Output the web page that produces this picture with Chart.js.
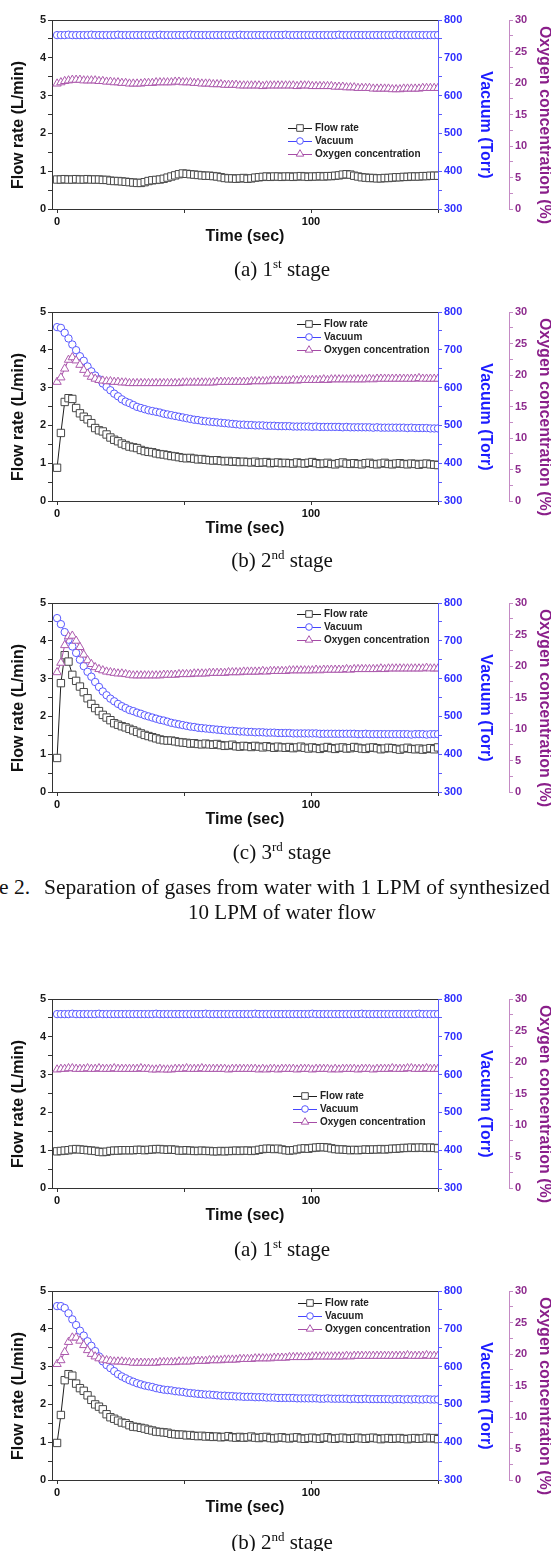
<!DOCTYPE html>
<html>
<head>
<meta charset="utf-8">
<script src="https://cdn.jsdelivr.net/npm/chart.js@4.4.1/dist/chart.umd.min.js"></script>
<style>
  html, body { margin:0; padding:0; background:#fff; }
  #page { position:relative; width:551px; height:1551px; overflow:hidden; }
  .panel { position:absolute; left:0; width:551px; height:260px; }
  .cap { position:absolute; left:0; width:564px; text-align:center; color:#111; white-space:nowrap;
         font-family:"Liberation Serif","Times New Roman",serif; font-size:21px; line-height:24px; }
  .cap sup { font-size:13px; line-height:0; vertical-align:8px; }
  .figcap { position:absolute; color:#111; white-space:pre;
            font-family:"Liberation Serif","Times New Roman",serif; font-size:21.5px; line-height:24px; }
</style>
</head>
<body>
<div id="page">
  <div class="panel" style="top:0px"><canvas id="c1" width="551" height="260"></canvas></div>
  <div class="cap" style="top:257px">(a) 1<sup>st</sup> stage</div>

  <div class="panel" style="top:292px"><canvas id="c2" width="551" height="260"></canvas></div>
  <div class="cap" style="top:548px">(b) 2<sup>nd</sup> stage</div>

  <div class="panel" style="top:583px"><canvas id="c3" width="551" height="260"></canvas></div>
  <div class="cap" style="top:840px">(c) 3<sup>rd</sup> stage</div>

  <div class="figcap" style="top:875px;left:-1px">e 2.</div>
  <div class="figcap" style="top:875px;left:44px">Separation of gases from water with 1 LPM of synthesized</div>
  <div class="cap" style="top:900px">10 LPM of water flow</div>

  <div class="panel" style="top:979px"><canvas id="c4" width="551" height="260"></canvas></div>
  <div class="cap" style="top:1237px">(a) 1<sup>st</sup> stage</div>

  <div class="panel" style="top:1271px"><canvas id="c5" width="551" height="260"></canvas></div>
  <div class="cap" style="top:1530px">(b) 2<sup>nd</sup> stage</div>
</div>

<script>
// samples logged every 1.5 s, t = 0 .. 150 s
const SAMPLE_STEP = 1.5;

// axis ticks (major ones get labels)
const timeTicks = [0, 50, 100, 150];
const timeLabels = [0, 100];
const flowTicks = [0, 0.5, 1, 1.5, 2, 2.5, 3, 3.5, 4, 4.5, 5];
const flowLabels = [0, 1, 2, 3, 4, 5];
const vacTicks = [300, 350, 400, 450, 500, 550, 600, 650, 700, 750, 800];
const vacLabels = [300, 400, 500, 600, 700, 800];
const o2Ticks = [0, 2.5, 5, 7.5, 10, 12.5, 15, 17.5, 20, 22.5, 25, 27.5, 30];
const o2Labels = [0, 5, 10, 15, 20, 25, 30];

const seriesNames = ['Flow rate', 'Vacuum', 'Oxygen concentration'];

/* ===== first set (Figure 2) ===== */
// (a) 1st stage
const flowA1 = [
  0.78,0.78,0.79,0.78,0.78,0.79,0.78,0.78,0.79,0.78,
  0.78,0.78,0.77,0.77,0.75,0.74,0.74,0.73,0.72,0.71,
  0.70,0.69,0.69,0.71,0.74,0.76,0.77,0.78,0.80,0.83,
  0.86,0.89,0.92,0.94,0.93,0.92,0.91,0.90,0.89,0.88,
  0.88,0.87,0.86,0.84,0.82,0.81,0.81,0.80,0.81,0.82,
  0.80,0.81,0.83,0.84,0.85,0.86,0.85,0.86,0.86,0.85,
  0.86,0.86,0.85,0.86,0.87,0.86,0.85,0.86,0.86,0.87,
  0.86,0.87,0.87,0.88,0.89,0.91,0.92,0.91,0.88,0.86,
  0.84,0.83,0.82,0.82,0.81,0.81,0.82,0.82,0.83,0.84,
  0.84,0.85,0.85,0.86,0.86,0.86,0.87,0.87,0.88,0.88,
  0.88
];
const vacA1 = [
  760,760,760,761,760,760,760,760,760,761,
  760,760,760,760,760,760,761,760,760,760,
  760,760,760,760,760,760,760,761,760,760,
  760,760,760,760,760,761,760,760,760,760,
  760,760,760,760,760,760,760,760,761,760,
  760,760,760,760,760,760,760,760,760,760,
  761,760,760,760,760,760,760,760,760,760,
  760,760,760,760,761,760,760,760,760,760,
  760,760,760,760,760,760,760,760,760,761,
  760,760,760,760,760,760,760,760,760,760,
  760
];
const o2A1 = [
  19.9,20.1,20.3,20.4,20.5,20.5,20.5,20.4,20.4,20.4,
  20.4,20.3,20.3,20.2,20.2,20.1,20.1,20.0,20.0,19.9,
  19.9,19.9,19.9,20.0,20.0,20.0,20.1,20.1,20.1,20.1,
  20.1,20.2,20.2,20.1,20.1,20.1,20.0,20.0,19.9,19.9,
  19.9,19.8,19.8,19.8,19.7,19.7,19.7,19.7,19.6,19.6,
  19.6,19.6,19.6,19.6,19.5,19.6,19.6,19.6,19.6,19.6,
  19.6,19.6,19.6,19.5,19.6,19.6,19.6,19.5,19.5,19.5,
  19.5,19.5,19.5,19.4,19.4,19.4,19.3,19.3,19.3,19.2,
  19.2,19.2,19.2,19.1,19.1,19.1,19.1,19.1,19.0,19.0,
  19.0,19.1,19.1,19.1,19.1,19.1,19.2,19.2,19.2,19.2,
  19.2
];

// (b) 2nd stage
const flowB1 = [
  0.88,1.80,2.62,2.72,2.70,2.46,2.32,2.23,2.16,2.06,
  1.93,1.87,1.84,1.76,1.68,1.62,1.58,1.52,1.48,1.44,
  1.42,1.40,1.35,1.32,1.30,1.29,1.26,1.24,1.23,1.21,
  1.19,1.18,1.16,1.14,1.13,1.14,1.12,1.10,1.11,1.09,
  1.08,1.07,1.08,1.06,1.05,1.06,1.04,1.05,1.03,1.04,
  1.03,1.02,1.04,1.01,1.02,1.03,1.00,1.01,1.02,1.00,
  1.01,1.00,0.99,1.02,1.00,0.99,1.01,1.03,1.00,0.98,
  0.99,1.01,0.98,0.97,1.00,1.02,0.99,0.98,1.00,0.98,
  0.97,1.00,1.01,0.98,0.97,0.99,1.01,0.98,0.97,0.99,
  1.00,0.98,0.97,0.99,0.98,0.96,0.98,0.99,0.97,0.96,
  0.95
];
const vacB1 = [
  760,758,745,730,714,699,683,671,656,643,
  632,622,611,602,593,584,577,569,563,559,
  554,549,546,543,540,538,536,534,531,529,
  527,525,523,521,519,517,515,514,512,511,
  510,509,508,507,506,505,504,503,502,502,
  501,501,500,500,500,499,499,499,498,498,
  498,498,497,497,497,497,497,496,497,496,
  496,496,496,496,496,495,496,495,495,495,
  495,495,495,494,495,494,494,494,494,494,
  494,494,493,494,493,493,493,493,492,492,
  492
];
const o2B1 = [
  18.9,19.6,21.0,22.4,22.8,22.3,21.6,20.8,20.2,19.7,
  19.4,19.2,19.1,19.0,19.0,18.9,18.9,18.8,18.8,18.7,
  18.7,18.7,18.7,18.7,18.7,18.7,18.7,18.7,18.7,18.7,
  18.7,18.7,18.7,18.8,18.8,18.8,18.8,18.8,18.8,18.8,
  18.8,18.8,18.9,18.9,18.9,18.9,18.9,18.9,18.9,18.9,
  18.9,19.0,19.0,19.0,19.0,19.0,19.1,19.1,19.1,19.1,
  19.1,19.1,19.2,19.1,19.2,19.2,19.2,19.2,19.2,19.2,
  19.3,19.2,19.3,19.3,19.3,19.3,19.3,19.3,19.3,19.3,
  19.3,19.3,19.4,19.3,19.4,19.4,19.4,19.4,19.4,19.4,
  19.4,19.4,19.4,19.4,19.4,19.5,19.4,19.4,19.4,19.4,
  19.4
];

// (c) 3rd stage
const flowC1 = [
  0.90,2.88,3.62,3.45,3.10,2.94,2.79,2.64,2.48,2.33,
  2.22,2.14,2.04,1.97,1.90,1.82,1.78,1.74,1.71,1.67,
  1.63,1.59,1.55,1.51,1.48,1.45,1.42,1.39,1.37,1.36,
  1.36,1.34,1.32,1.31,1.30,1.28,1.29,1.27,1.26,1.28,
  1.26,1.25,1.27,1.24,1.22,1.23,1.25,1.21,1.20,1.22,
  1.21,1.19,1.22,1.20,1.18,1.21,1.19,1.17,1.20,1.18,
  1.17,1.19,1.16,1.18,1.20,1.17,1.15,1.18,1.16,1.14,
  1.17,1.19,1.16,1.14,1.17,1.18,1.15,1.16,1.19,1.17,
  1.15,1.14,1.17,1.18,1.16,1.13,1.15,1.17,1.16,1.14,
  1.12,1.15,1.17,1.14,1.13,1.15,1.12,1.14,1.16,1.13,
  1.18
];
const vacC1 = [
  760,744,723,703,685,668,650,633,618,605,
  591,578,566,556,547,540,533,527,522,517,
  514,510,507,503,500,497,494,491,489,486,
  483,481,479,477,475,473,472,470,469,468,
  467,466,465,464,463,462,462,461,460,460,
  459,459,458,458,458,457,457,457,456,456,
  456,456,455,455,455,455,455,455,455,454,
  454,454,454,454,454,454,454,454,454,453,
  453,454,453,453,453,453,453,453,453,453,
  453,453,453,452,453,453,453,452,453,453,
  453
];
const o2C1 = [
  19.0,20.5,23.3,24.7,24.8,24.0,23.0,21.8,20.9,20.3,
  19.8,19.5,19.3,19.1,19.0,18.9,18.8,18.8,18.7,18.6,
  18.5,18.5,18.5,18.5,18.5,18.5,18.5,18.5,18.6,18.6,
  18.6,18.6,18.7,18.7,18.7,18.7,18.8,18.8,18.8,18.8,
  18.9,18.9,18.9,18.9,18.9,19.0,19.0,19.0,19.0,19.1,
  19.1,19.1,19.1,19.1,19.2,19.1,19.2,19.2,19.2,19.2,
  19.2,19.3,19.3,19.3,19.3,19.3,19.3,19.3,19.4,19.3,
  19.4,19.4,19.4,19.4,19.4,19.4,19.5,19.4,19.5,19.5,
  19.5,19.5,19.5,19.5,19.5,19.6,19.5,19.6,19.6,19.6,
  19.6,19.6,19.6,19.6,19.6,19.6,19.6,19.7,19.6,19.6,
  19.6
];

/* ===== second set ===== */
// (a) 1st stage
const flowA2 = [
  0.97,0.98,0.99,1.00,1.02,1.03,1.02,1.01,1.00,0.99,
  0.98,0.96,0.95,0.96,0.98,0.99,0.99,1.00,1.00,1.00,
  1.00,1.01,1.01,1.00,1.01,1.02,1.03,1.03,1.02,1.01,
  1.02,1.01,0.99,0.99,1.00,0.99,0.98,0.98,0.99,0.98,
  0.98,0.97,0.97,0.98,0.97,0.98,0.98,0.99,0.98,0.99,
  0.99,0.98,0.99,1.01,1.03,1.04,1.04,1.03,1.04,1.02,
  1.00,0.99,1.00,1.02,1.04,1.05,1.04,1.06,1.07,1.08,
  1.08,1.07,1.05,1.03,1.02,1.02,1.01,1.00,1.01,1.00,
  1.01,1.02,1.01,1.02,1.02,1.03,1.02,1.03,1.04,1.04,
  1.05,1.06,1.06,1.07,1.06,1.07,1.07,1.06,1.07,1.06,
  1.05
];
const vacA2 = [
  760,760,760,760,761,760,760,760,760,760,
  760,761,760,760,760,760,760,760,760,760,
  760,760,760,760,760,760,761,760,760,760,
  760,760,760,760,760,760,760,760,760,761,
  760,760,760,760,760,760,760,760,760,760,
  760,760,761,760,760,760,760,760,760,760,
  760,760,760,760,760,760,760,761,760,760,
  760,760,760,760,760,760,760,760,760,760,
  761,760,760,760,760,760,760,760,760,760,
  760,760,760,760,760,761,760,760,760,760,
  760
];
const o2A2 = [
  18.8,18.9,18.9,19.0,19.0,18.9,18.9,18.9,19.0,18.9,
  18.9,19.0,18.9,18.9,18.9,19.0,18.9,18.9,18.9,18.9,
  18.9,18.9,19.0,18.9,18.9,18.8,18.8,18.9,18.8,18.8,
  18.8,18.9,18.9,18.9,19.0,18.9,18.9,18.9,19.0,18.9,
  18.9,18.9,18.9,18.9,18.9,18.8,18.9,18.9,18.9,18.9,
  18.9,18.9,18.9,18.8,18.9,18.8,18.9,18.9,18.8,18.9,
  18.9,18.9,18.9,18.8,18.9,18.9,18.9,18.8,18.9,18.9,
  18.9,18.9,18.8,18.9,18.8,18.9,18.9,18.9,18.9,18.8,
  18.9,18.9,18.9,18.8,18.9,18.9,18.9,18.9,19.0,18.9,
  18.9,18.9,19.0,19.0,18.9,18.9,18.9,19.0,18.9,18.9,
  18.9
];

// (b) 2nd stage
const flowB2 = [
  0.98,1.72,2.64,2.80,2.76,2.55,2.43,2.36,2.24,2.12,
  2.00,1.94,1.87,1.74,1.66,1.62,1.57,1.52,1.50,1.45,
  1.41,1.40,1.38,1.36,1.33,1.31,1.28,1.27,1.26,1.25,
  1.22,1.21,1.20,1.20,1.18,1.19,1.17,1.16,1.17,1.15,
  1.16,1.14,1.15,1.13,1.14,1.16,1.13,1.12,1.14,1.12,
  1.13,1.15,1.12,1.11,1.13,1.14,1.11,1.10,1.12,1.13,
  1.11,1.10,1.12,1.13,1.10,1.09,1.11,1.12,1.10,1.09,
  1.12,1.13,1.10,1.09,1.11,1.12,1.10,1.09,1.11,1.12,
  1.10,1.09,1.11,1.12,1.10,1.08,1.10,1.11,1.09,1.10,
  1.11,1.09,1.08,1.10,1.11,1.09,1.10,1.12,1.10,1.11,
  1.08
];
const vacB2 = [
  760,760,755,741,725,710,695,682,667,655,
  641,627,614,604,596,588,580,574,569,564,
  560,556,553,550,548,546,543,541,539,538,
  537,535,534,533,531,530,529,528,527,526,
  526,525,524,523,523,522,522,521,521,520,
  520,520,519,519,519,518,518,518,517,517,
  517,517,517,516,516,516,516,516,516,515,
  515,516,515,515,515,515,515,514,515,514,
  514,515,514,514,514,514,514,514,513,514,
  514,513,514,513,514,513,513,514,513,513,
  513
];
const o2B2 = [
  18.4,19.0,20.3,21.9,22.6,22.6,22.1,21.4,20.6,20.0,
  19.6,19.3,19.1,19.0,18.9,18.8,18.8,18.8,18.7,18.7,
  18.6,18.6,18.6,18.6,18.6,18.6,18.6,18.7,18.7,18.7,
  18.7,18.7,18.8,18.8,18.8,18.8,18.9,18.9,18.9,18.9,
  19.0,19.0,19.0,19.0,19.1,19.1,19.1,19.1,19.2,19.2,
  19.2,19.2,19.3,19.3,19.3,19.3,19.3,19.4,19.4,19.4,
  19.4,19.5,19.5,19.5,19.5,19.5,19.5,19.6,19.6,19.6,
  19.6,19.6,19.6,19.6,19.6,19.6,19.7,19.6,19.7,19.7,
  19.7,19.7,19.7,19.7,19.7,19.7,19.7,19.7,19.7,19.7,
  19.7,19.7,19.8,19.7,19.7,19.7,19.7,19.8,19.7,19.7,
  19.7
];

const times = flowA1.map((_, i) => i * SAMPLE_STEP);

/* ========== styling ========== */
const SANS = '"Liberation Sans", Arial, sans-serif';
const FLOW_COLOR = '#1e1e1e';
const VAC_COLOR = '#4646ff';
const O2_COLOR = '#a64ca6';

function keepTicks(values){
  return scale => { scale.ticks = values.map(v => ({ value: v })); };
}

function axis(position, min, max, ticks, labels, color, lineColor, width, weight){
  return {
    type: 'linear', position, min, max, weight,
    afterBuildTicks: keepTicks(ticks),
    afterFit: s => { s.width = width; },
    ticks: {
      autoSkip: false, padding: 2, color,
      font: { family: SANS, size: 11, weight: 'bold' },
      callback: v => labels.includes(v) ? String(v) : ''
    },
    grid: { drawOnChartArea: false, tickLength: 4, color: lineColor, tickColor: lineColor },
    border: { color: lineColor, width: 1 }
  };
}

function rotText(ctx, text, x, y, angle, color){
  ctx.save();
  ctx.translate(x, y);
  ctx.rotate(angle);
  ctx.fillStyle = color;
  ctx.fillText(text, 0, 0);
  ctx.restore();
}

// frame top line, axis titles and the in-plot legend
const panelDecor = {
  id: 'panelDecor',
  afterDraw(chart, args, opts){
    const { ctx, chartArea: a, scales } = chart;
    ctx.save();
    ctx.strokeStyle = '#333';
    ctx.lineWidth = 1;
    ctx.beginPath();
    ctx.moveTo(a.left, a.top + 0.5);
    ctx.lineTo(a.right, a.top + 0.5);
    ctx.stroke();

    const midY = a.top + 105;
    ctx.font = 'bold 16px ' + SANS;
    ctx.textAlign = 'center';
    ctx.textBaseline = 'middle';
    rotText(ctx, 'Flow rate (L/min)', scales.yFlow.left + 19, midY, -Math.PI / 2, '#111');
    rotText(ctx, 'Vacuum (Torr)', scales.yVac.left + 47, midY, Math.PI / 2, '#1c1cff');
    rotText(ctx, 'Oxygen concentration (%)', scales.yO2.left + 35, midY, Math.PI / 2, '#8a1f8a');
    ctx.fillStyle = '#111';
    ctx.fillText('Time (sec)', (a.left + a.right) / 2, a.bottom + 28);

    // legend
    const x0 = a.left + opts.legendDx;
    let y = a.top + opts.legendDy;
    ctx.font = 'bold 10px ' + SANS;
    ctx.textAlign = 'left';
    chart.data.datasets.forEach(ds => {
      ctx.strokeStyle = ds.borderColor;
      ctx.lineWidth = 1;
      ctx.beginPath();
      ctx.moveTo(x0, y + 0.5);
      ctx.lineTo(x0 + 24, y + 0.5);
      ctx.stroke();
      ctx.fillStyle = '#fff';
      ctx.strokeStyle = ds.pointBorderColor;
      Chart.helpers.drawPoint(ctx, { pointStyle: ds.pointStyle, radius: ds.pointRadius * 0.9, borderWidth: 1, rotation: 0 }, x0 + 12, y);
      ctx.fillStyle = '#222';
      ctx.fillText(ds.label, x0 + 27, y);
      y += 13;
    });
    ctx.restore();
  }
};

function makePanel(id, flow, vac, o2, legendDx, legendDy){
  const pts = arr => arr.map((v, i) => ({ x: times[i], y: v }));
  return new Chart(document.getElementById(id), {
    type: 'line',
    data: {
      datasets: [
        { label: seriesNames[0], data: pts(flow), yAxisID: 'yFlow', order: 1,
          borderColor: FLOW_COLOR, borderWidth: 1, pointStyle: 'rect', pointRadius: 5.2,
          pointBorderColor: '#474747', pointBackgroundColor: '#fff', pointBorderWidth: 1 },
        { label: seriesNames[1], data: pts(vac), yAxisID: 'yVac', order: 2,
          borderColor: VAC_COLOR, borderWidth: 1, pointStyle: 'circle', pointRadius: 3.7,
          pointBorderColor: '#5858ff', pointBackgroundColor: '#fff', pointBorderWidth: 1 },
        { label: seriesNames[2], data: pts(o2), yAxisID: 'yO2', order: 0,
          borderColor: O2_COLOR, borderWidth: 1, pointStyle: 'triangle', pointRadius: 4.8,
          pointBorderColor: '#ad5aad', pointBackgroundColor: '#fff', pointBorderWidth: 1 }
      ]
    },
    options: {
      responsive: false,
      animation: false,
      devicePixelRatio: 1,
      layout: { padding: { top: 20, left: 0, right: 0, bottom: 0 } },
      plugins: {
        legend: { display: false },
        tooltip: { enabled: false },
        panelDecor: { legendDx, legendDy }
      },
      scales: {
        x: {
          type: 'linear', position: 'bottom', min: -2, max: 150,
          afterBuildTicks: keepTicks(timeTicks),
          afterFit: s => { s.height = 51; },
          ticks: {
            autoSkip: false, maxRotation: 0, padding: 2, color: '#111',
            font: { family: SANS, size: 11, weight: 'bold' },
            callback: v => timeLabels.includes(v) ? String(v) : ''
          },
          grid: { drawOnChartArea: false, tickLength: 4, color: '#333', tickColor: '#333' },
          border: { color: '#333', width: 1 }
        },
        yFlow: axis('left', 0, 5, flowTicks, flowLabels, '#1a1a1a', '#333', 52, 0),
        yVac: axis('right', 300, 800, vacTicks, vacLabels, '#2e2eff', '#5a5aff', 71, 0),
        yO2: axis('right', 0, 30, o2Ticks, o2Labels, '#8e2c8e', '#c48ac4', 42, 1)
      }
    },
    plugins: [panelDecor]
  });
}

makePanel('c1', flowA1, vacA1, o2A1, 236, 108);
makePanel('c2', flowB1, vacB1, o2B1, 245, 12);
makePanel('c3', flowC1, vacC1, o2C1, 245, 11);
makePanel('c4', flowA2, vacA2, o2A2, 241, 97);
makePanel('c5', flowB2, vacB2, o2B2, 246, 12);
</script>
</body>
</html>
